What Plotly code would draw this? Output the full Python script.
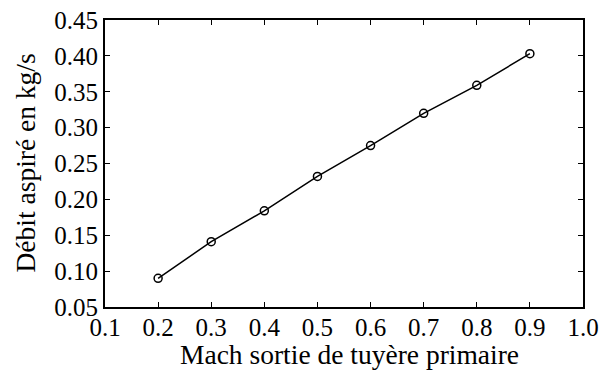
import plotly.graph_objects as go

# Mach number at the primary nozzle exit and the corresponding entrained mass flow
mach = [0.2, 0.3, 0.4, 0.5, 0.6, 0.7, 0.8, 0.9]
debit = [0.090, 0.141, 0.184, 0.232, 0.275, 0.320, 0.359, 0.403]

x_ticks = [0.1, 0.2, 0.3, 0.4, 0.5, 0.6, 0.7, 0.8, 0.9, 1.0]
x_labels = ["0.1", "0.2", "0.3", "0.4", "0.5", "0.6", "0.7", "0.8", "0.9", "1.0"]
y_ticks = [0.05, 0.10, 0.15, 0.20, 0.25, 0.30, 0.35, 0.40, 0.45]
y_labels = ["0.05", "0.10", "0.15", "0.20", "0.25", "0.30", "0.35", "0.40", "0.45"]

x_title = "Mach sortie de tuyère primaire"
y_title = "Débit aspiré en kg/s"

SERIF = "Liberation Serif, Times New Roman, serif"
tick_font = dict(family=SERIF, size=25, color="black")
title_font = dict(family=SERIF, size=27.5, color="black")

fig = go.Figure(
    go.Scatter(
        x=mach,
        y=debit,
        mode="lines+markers",
        line=dict(color="black", width=1.5),
        marker=dict(symbol="circle-open", size=8, color="black", line=dict(width=1.5)),
    )
)

axis_common = dict(
    showline=True,
    linecolor="black",
    linewidth=2,
    mirror="ticks",
    ticks="inside",
    ticklen=5,
    tickwidth=1,
    tickcolor="black",
    showgrid=False,
    zeroline=False,
    automargin=False,
    tickfont=tick_font,
)

fig.update_xaxes(
    range=[0.1, 1.0], tickvals=x_ticks, ticktext=x_labels,
    ticklabelstandoff=-3, **axis_common,
)
fig.update_yaxes(range=[0.05, 0.45], tickvals=y_ticks, ticktext=y_labels, **axis_common)

# axis titles placed as annotations so their distance to the tick labels is fixed
fig.add_annotation(
    text=x_title, xref="paper", yref="paper", x=0.5, y=0,
    xanchor="center", yanchor="bottom", xshift=5, yshift=-64,
    borderpad=0, showarrow=False, font=title_font,
)
fig.add_annotation(
    text=y_title, xref="paper", yref="paper", x=0, y=0.5,
    xanchor="center", yanchor="middle", xshift=-80, textangle=-90,
    borderpad=0, showarrow=False, font=title_font,
)

fig.update_layout(
    width=600,
    height=371,
    margin=dict(l=105, r=17, t=20, b=64, autoexpand=False),
    font=dict(family=SERIF, size=25, color="black"),
    paper_bgcolor="white",
    plot_bgcolor="white",
    showlegend=False,
)

fig.write_html("out.html")
